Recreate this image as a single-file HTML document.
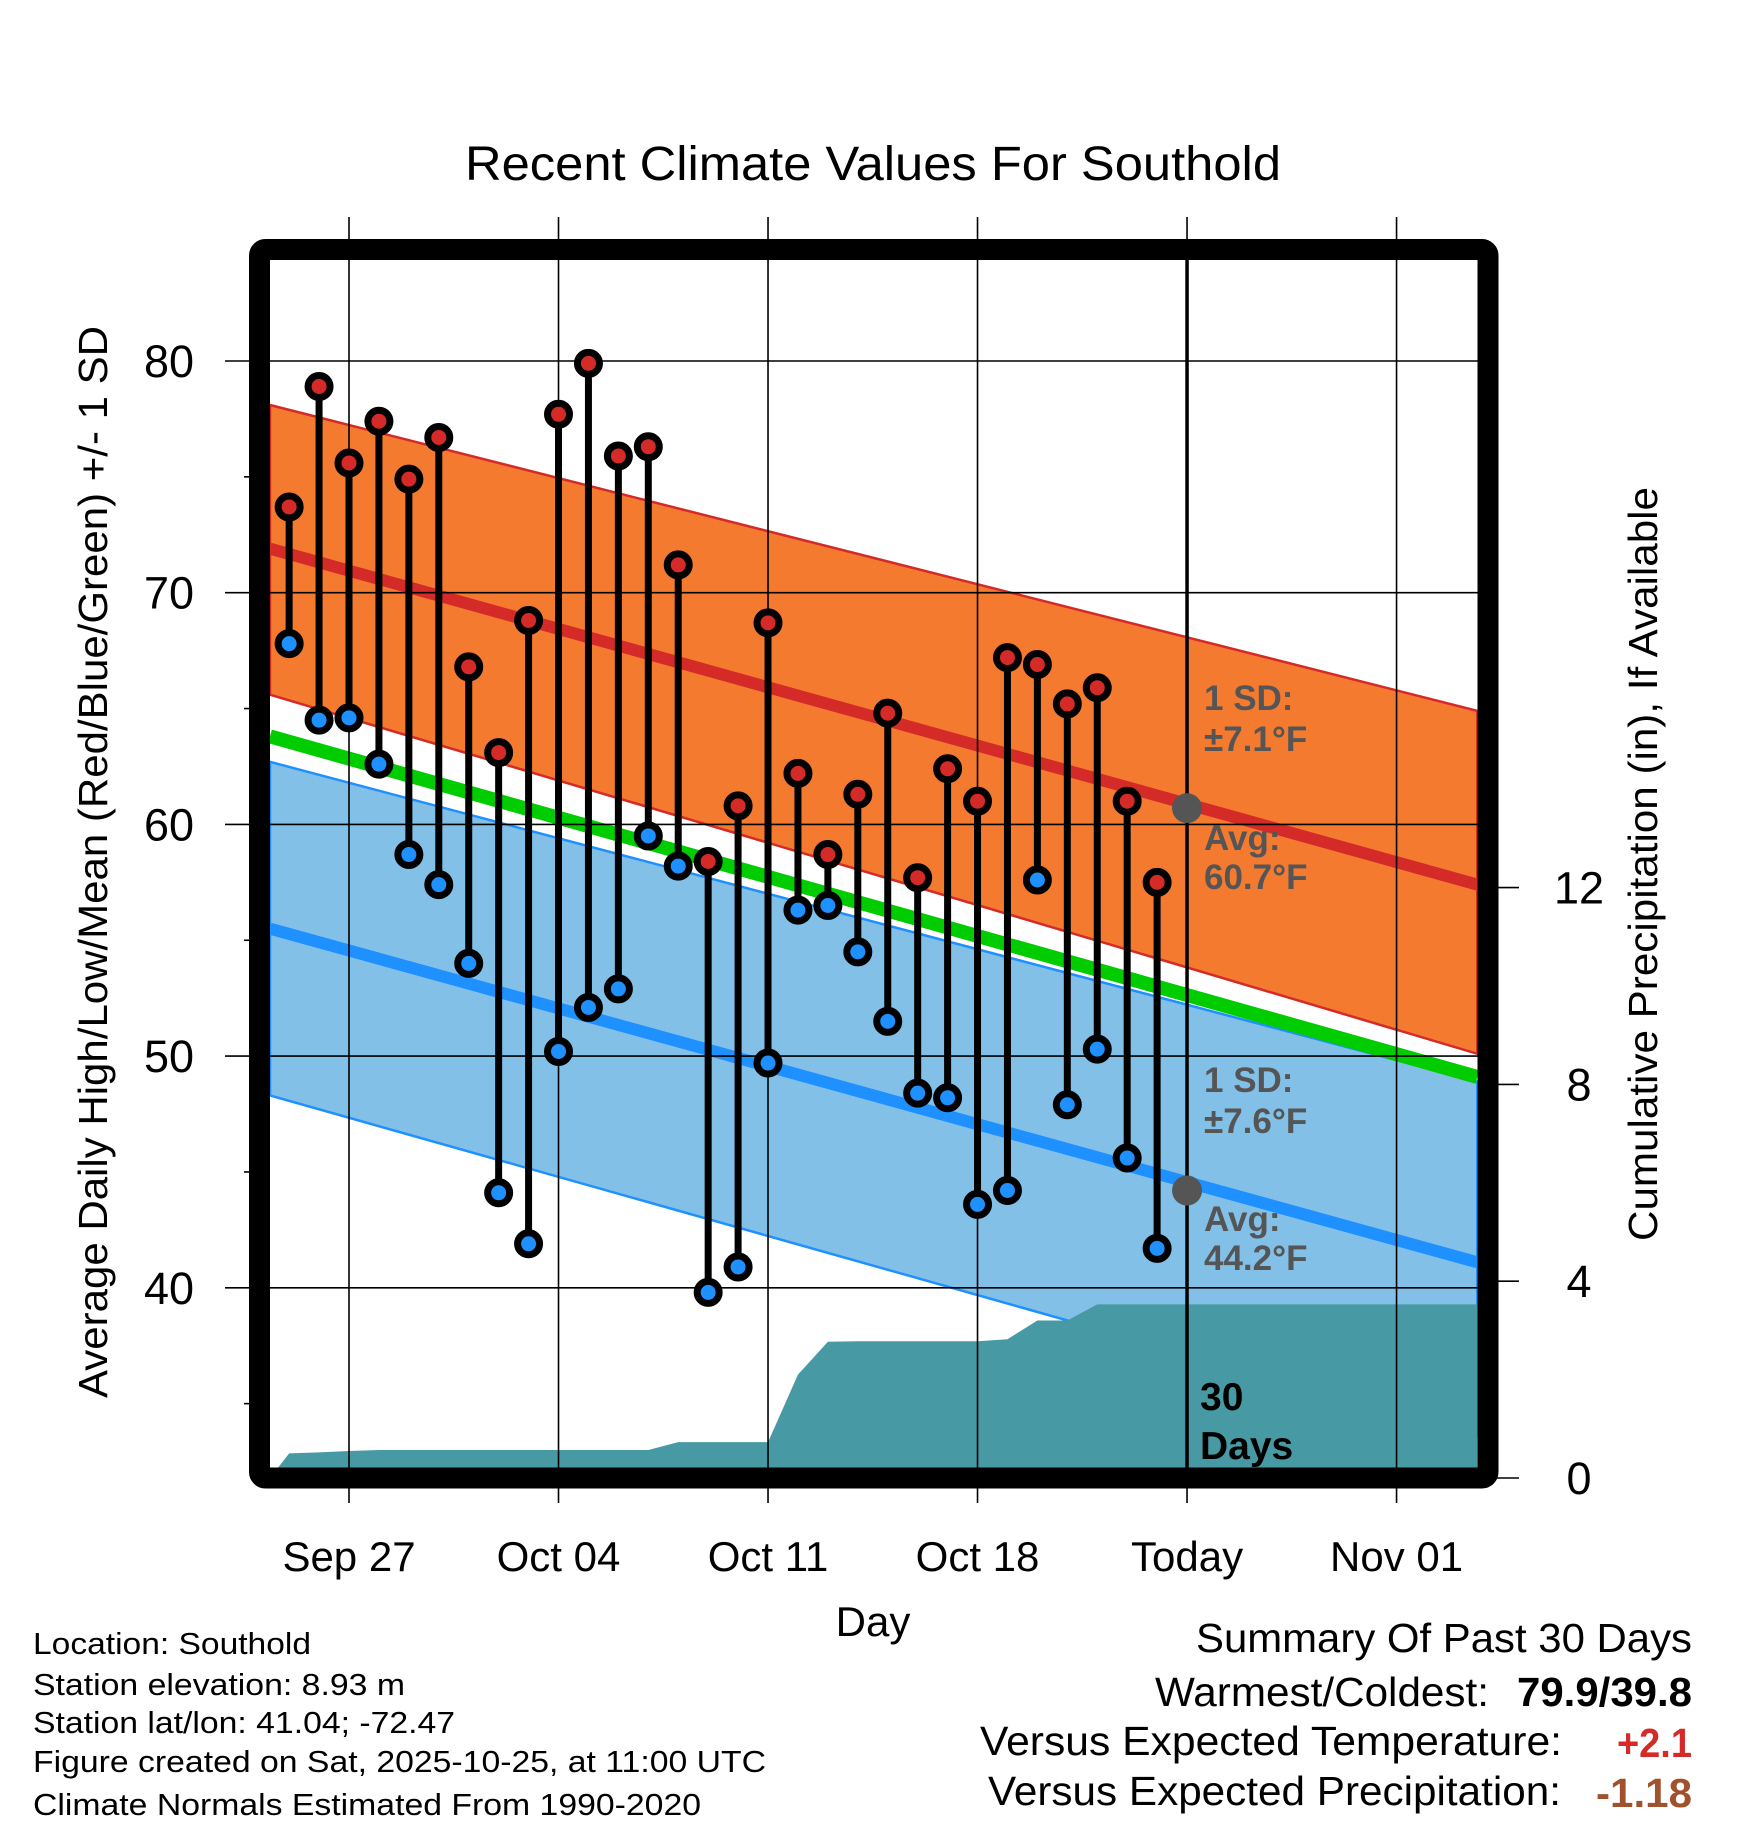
<!DOCTYPE html>
<html><head><meta charset="utf-8"><style>
html,body{margin:0;padding:0;background:#fff}
svg{display:block;font-family:"Liberation Sans",sans-serif}
</style></head><body>
<svg id="chart" width="1748" height="1828" viewBox="0 0 1748 1828" xmlns="http://www.w3.org/2000/svg">
<defs><clipPath id="plotclip"><rect x="270" y="260" width="1208" height="1208"/></clipPath></defs>
<text x="873" y="180" font-size="48" text-anchor="middle" textLength="816" lengthAdjust="spacingAndGlyphs">Recent Climate Values For Southold</text>
<g id="bands" clip-path="url(#plotclip)"></g>
<g id="grid"></g>
<g id="marks" clip-path="url(#plotclip)"></g>
<rect x="259.5" y="249.5" width="1228.5" height="1228.5" rx="6" fill="none" stroke="#000" stroke-width="21"/>
<g id="axes"></g>
<g font-weight="bold" font-size="35" fill="#555">
<text x="1204" y="710">1 SD:</text>
<text x="1204" y="751">±7.1°F</text>
<text x="1204" y="850">Avg:</text>
<text x="1204" y="889">60.7°F</text>
<text x="1204" y="1092">1 SD:</text>
<text x="1204" y="1133">±7.6°F</text>
<text x="1204" y="1231">Avg:</text>
<text x="1204" y="1270">44.2°F</text>
<text x="1200" y="1410" fill="#000" font-size="39">30</text>
<text x="1200" y="1459" fill="#000" font-size="39">Days</text>
</g>
<text x="873" y="1636" font-size="42" text-anchor="middle">Day</text>
<text transform="translate(107,862) rotate(-90)" font-size="41" text-anchor="middle" textLength="1072" lengthAdjust="spacingAndGlyphs">Average Daily High/Low/Mean (Red/Blue/Green) +/- 1 SD</text>
<text transform="translate(1657,864) rotate(-90)" font-size="41" text-anchor="middle" textLength="754" lengthAdjust="spacingAndGlyphs">Cumulative Precipitation (in), If Available</text>
<g font-size="31">
<text x="33" y="1654" textLength="278" lengthAdjust="spacingAndGlyphs">Location: Southold</text>
<text x="33" y="1695" textLength="372" lengthAdjust="spacingAndGlyphs">Station elevation: 8.93 m</text>
<text x="33" y="1733" textLength="422" lengthAdjust="spacingAndGlyphs">Station lat/lon: 41.04; -72.47</text>
<text x="33" y="1772" textLength="733" lengthAdjust="spacingAndGlyphs">Figure created on Sat, 2025-10-25, at 11:00 UTC</text>
<text x="33" y="1815" textLength="668" lengthAdjust="spacingAndGlyphs">Climate Normals Estimated From 1990-2020</text>
</g>
<g font-size="41">
<text x="1196" y="1652" textLength="496" lengthAdjust="spacingAndGlyphs">Summary Of Past 30 Days</text>
<text x="1155" y="1706" textLength="334" lengthAdjust="spacingAndGlyphs">Warmest/Coldest:</text>
<text x="1517" y="1706" font-weight="bold" textLength="175" lengthAdjust="spacingAndGlyphs">79.9/39.8</text>
<text x="980" y="1755" textLength="582" lengthAdjust="spacingAndGlyphs">Versus Expected Temperature:</text>
<text x="1617" y="1757" font-weight="bold" fill="#d42a28" textLength="75" lengthAdjust="spacingAndGlyphs">+2.1</text>
<text x="988" y="1805" textLength="573" lengthAdjust="spacingAndGlyphs">Versus Expected Precipitation:</text>
<text x="1596" y="1807" font-weight="bold" fill="#a0522d" textLength="96" lengthAdjust="spacingAndGlyphs">-1.18</text>
</g>
</svg>
<script>
const highs=[73.7,78.9,75.6,77.4,74.9,76.7,66.8,63.1,68.8,77.7,79.9,75.9,76.3,71.2,58.4,60.8,68.7,62.2,58.7,61.3,64.8,57.7,62.4,61.0,67.2,66.9,65.2,65.9,61.0,57.5];
const lows=[67.8,64.5,64.6,62.6,58.7,57.4,54.0,44.1,41.9,50.2,52.1,52.9,59.5,58.2,39.8,40.9,49.7,56.3,56.5,54.5,51.5,48.4,48.2,43.6,44.2,57.6,47.9,50.3,45.6,41.7];
const precip=[0.5,0.52,0.55,0.57,0.57,0.57,0.57,0.57,0.57,0.57,0.57,0.57,0.57,0.73,0.73,0.73,0.73,2.1,2.77,2.78,2.78,2.78,2.78,2.78,2.82,3.2,3.2,3.53,3.53,3.53];
const normEnds=[-2.64,37.7];
const highUpper=[78.1,64.9];
const highMean=[71.9,57.4];
const highLower=[65.6,50.1];
const meanTemp=[63.8,49.1];
const lowUpper=[62.7,48.9];
const lowMean=[55.5,41.1];
const lowLower=[48.3,33.6];
const yTicks=[40,50,60,70,80];
const yMinor=[35,45,55,65,75];
const y2Ticks=[0,4,8,12];
const xTickDays=[0,7,14,21,28,35];
const xTickLabels=["Sep 27","Oct 04","Oct 11","Oct 18","Today","Nov 01"];
const todayAvgs=[60.7,44.2];
const firstDay=-2;

const NS="http://www.w3.org/2000/svg";
const X=d=>349+d*29.93;
const Y=v=>361+(80-v)*23.17;
const Y2=p=>1478-p*49.2;
function mk(par,tag,at){const e=document.createElementNS(NS,tag);for(const k in at)e.setAttribute(k,at[k]);par.appendChild(e);return e;}
const bands=document.getElementById('bands'),grid=document.getElementById('grid'),marks=document.getElementById('marks'),axes=document.getElementById('axes');
function band(up,lo,fill,stroke,name){
  const x0=X(normEnds[0]),x1=X(normEnds[1]);
  const p=mk(bands,'polygon',{points:`${x0},${Y(up[0])} ${x1},${Y(up[1])} ${x1},${Y(lo[1])} ${x0},${Y(lo[0])}`,fill:fill,stroke:stroke,'stroke-width':2.5});
  
  
}
function line(v,col,w,name){
  const l=mk(bands,'line',{x1:X(normEnds[0]),y1:Y(v[0]),x2:X(normEnds[1]),y2:Y(v[1]),stroke:col,'stroke-width':w});
  
  
}
band(highUpper,highLower,'#f47a30','#d42a28','high-sd-band');
band(lowUpper,lowLower,'#82c0e8','#1e90ff','low-sd-band');
line(meanTemp,'#00cc00',14,'mean-line');
line(highMean,'#d42a28',12,'high-normal-line');
line(lowMean,'#1e90ff',12,'low-normal-line');
let pts=`${X(normEnds[0])},${Y2(0)} `;
precip.forEach((p,i)=>{pts+=`${X(firstDay+i)},${Y2(p)} `;});
pts+=`${X(normEnds[1])},${Y2(precip[precip.length-1])} ${X(normEnds[1])},${Y2(0)} ${X(normEnds[1])},1500 ${X(normEnds[0])},1500`;
const pa=mk(bands,'polygon',{points:pts,fill:'#479aa3'});


xTickDays.forEach((d,i)=>{
  const g=mk(grid,'line',{x1:X(d),y1:217,x2:X(d),y2:1503,stroke:'#000','stroke-width':1.6});
  
  
  const t=mk(axes,'text',{x:X(d),y:1571,'font-size':42,'text-anchor':'middle'});t.textContent=xTickLabels[i];
  
  
});
yTicks.forEach(v=>{
  const g=mk(grid,'line',{x1:225,y1:Y(v),x2:1478,y2:Y(v),stroke:'#000','stroke-width':1.6});
  
  
  const t=mk(axes,'text',{x:194,y:Y(v)+16,'font-size':45,'text-anchor':'end'});t.textContent=v;
  
  
});
yMinor.forEach(v=>{
  const g=mk(axes,'line',{x1:244,y1:Y(v),x2:252,y2:Y(v),stroke:'#000','stroke-width':1.6});
  
  
});
y2Ticks.forEach(v=>{
  const g=mk(axes,'line',{x1:1495,y1:Y2(v),x2:1519,y2:Y2(v),stroke:'#000','stroke-width':1.6});
  
  
  const t=mk(axes,'text',{x:1579,y:Y2(v)+16,'font-size':45,'text-anchor':'middle'});t.textContent=v;
  
  
});
const tl=mk(grid,'line',{x1:X(28),y1:260,x2:X(28),y2:1470,stroke:'#000','stroke-width':3.5});


todayAvgs.forEach(v=>{
  const c=mk(grid,'circle',{cx:X(28),cy:Y(v),r:15,fill:'#555'});
  
  
});
highs.forEach((h,i)=>{
  const x=X(firstDay+i);
  const s=mk(marks,'line',{x1:x,y1:Y(h),x2:x,y2:Y(lows[i]),stroke:'#000','stroke-width':7});
  
  
});
lows.forEach((l,i)=>{
  const c=mk(marks,'circle',{cx:X(firstDay+i),cy:Y(l),r:11,fill:'#1e90ff',stroke:'#000','stroke-width':7});
  
  
});
highs.forEach((h,i)=>{
  const c=mk(marks,'circle',{cx:X(firstDay+i),cy:Y(h),r:11,fill:'#d42a28',stroke:'#000','stroke-width':7});
  
  
});
</script>
</body></html>
